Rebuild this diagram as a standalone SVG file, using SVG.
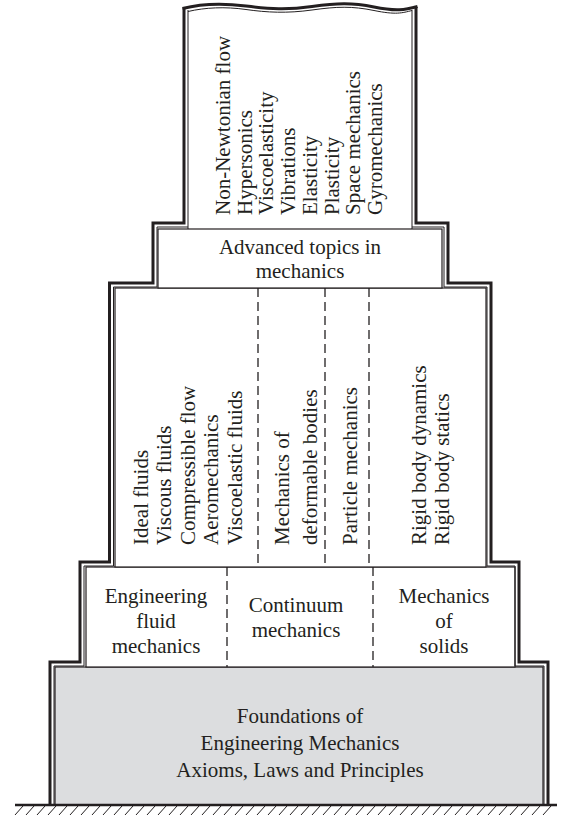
<svg xmlns="http://www.w3.org/2000/svg" width="570" height="815" viewBox="0 0 570 815">
<style>
  .t { font-family: "Liberation Serif", "Times New Roman", serif; font-size: 21px; fill: #231f20; }
  .c { text-anchor: middle; }
  .box { fill: #ffffff; stroke: #231f20; stroke-width: 1.2; }
  .thick { fill: none; stroke: #231f20; stroke-width: 3; stroke-linejoin: miter; }
  .thin { fill: none; stroke: #231f20; stroke-width: 1; }
  .dash { stroke: #231f20; stroke-width: 1.3; stroke-dasharray: 9 5; }
  .hatch { stroke: #231f20; stroke-width: 1; }
</style>
<rect x="0" y="0" width="570" height="815" fill="#ffffff"/>

<g id="foundations">
  <rect class="box" x="55" y="667" width="488" height="138" style="fill:#dcdddf"/>
  <text class="t c" x="300" y="723">Foundations of</text>
  <text class="t c" x="300" y="750">Engineering Mechanics</text>
  <text class="t c" x="300" y="777">Axioms, Laws and Principles</text>
</g>

<g id="engineering-level">
  <rect class="box" x="86" y="567" width="429" height="100"/>
  <line class="dash" x1="227" y1="567" x2="227" y2="667"/>
  <line class="dash" x1="373" y1="567" x2="373" y2="667"/>
</g>
<g id="fluid-mechanics">
  <text class="t c" x="156" y="603">Engineering</text>
  <text class="t c" x="156" y="628">fluid</text>
  <text class="t c" x="156" y="653">mechanics</text>
</g>
<g id="continuum-mechanics">
  <text class="t c" x="296" y="612">Continuum</text>
  <text class="t c" x="296" y="637">mechanics</text>
</g>
<g id="mechanics-of-solids">
  <text class="t c" x="444" y="603">Mechanics</text>
  <text class="t c" x="444" y="628">of</text>
  <text class="t c" x="444" y="653">solids</text>
</g>

<g id="middle-level">
  <rect class="box" x="115" y="288" width="371" height="279"/>
  <line class="dash" x1="258" y1="288" x2="258" y2="567"/>
  <line class="dash" x1="325" y1="288" x2="325" y2="567"/>
  <line class="dash" x1="369" y1="288" x2="369" y2="567"/>
</g>
<g id="fluids">
  <g transform="rotate(-90)">
    <text class="t" x="-545" y="147.5">Ideal fluids</text>
    <text class="t" x="-545" y="171">Viscous fluids</text>
    <text class="t" x="-545" y="194.5">Compressible flow</text>
    <text class="t" x="-545" y="218">Aeromechanics</text>
    <text class="t" x="-545" y="242">Viscoelastic fluids</text>
  </g>
</g>
<g id="deformable-bodies">
  <g transform="rotate(-90)">
    <text class="t" x="-545" y="288.5">Mechanics of</text>
    <text class="t" x="-545" y="316.5">deformable bodies</text>
  </g>
</g>
<g id="particle-mechanics">
  <g transform="rotate(-90)">
    <text class="t" x="-545" y="356.5">Particle mechanics</text>
  </g>
</g>
<g id="rigid-body">
  <g transform="rotate(-90)">
    <text class="t" x="-545" y="425.5">Rigid body dynamics</text>
    <text class="t" x="-545" y="449">Rigid body statics</text>
  </g>
</g>

<g id="advanced-topics">
  <rect class="box" x="158" y="229" width="284" height="59"/>
  <text class="t c" x="300" y="254">Advanced topics in</text>
  <text class="t c" x="300" y="278">mechanics</text>
</g>

<g id="top-topics">
  <line class="thin" x1="188" y1="10" x2="188" y2="229"/>
  <line class="thin" x1="412" y1="10" x2="412" y2="229"/>
  <g transform="rotate(-90)">
    <text class="t" x="-215" y="230">Non-Newtonian flow</text>
    <text class="t" x="-215" y="251.7">Hypersonics</text>
    <text class="t" x="-215" y="273.4">Viscoelasticity</text>
    <text class="t" x="-215" y="295.1">Vibrations</text>
    <text class="t" x="-215" y="316.8">Elasticity</text>
    <text class="t" x="-215" y="338.5">Plasticity</text>
    <text class="t" x="-215" y="360.2">Space mechanics</text>
    <text class="t" x="-215" y="381.9">Gyromechanics</text>
  </g>
</g>

<g id="outline">
  <path class="thick" d="M50,805 V662 H80 V562 H109.5 V283 H153 V223 H184 V7.5"/>
  <path class="thick" d="M416,7 V223 H448 V283 H491 V562 H519 V662 H548 V805"/>
  <path class="thin" d="M54,805 V666 H84 V566 H113.5 V287 H157 V227 H188"/>
  <path class="thin" d="M412,227 H444 V287 H487 V566 H515 V666 H544 V805"/>
  <path class="thick" d="M182.5,8.5 C200,4 222,3 246,6 S 287,10 312,6.5 S 352,2.5 374,7 S 405,10 417.5,6.5"/>
  <path class="thin" d="M188,11.5 C205,7.5 225,6.5 246,9.5 S 287,13.5 312,10 S 352,6 374,10.5 S 402,13 412,10.5"/>
</g>

<g id="ground">
  <line x1="15" y1="805" x2="557" y2="805" stroke="#231f20" stroke-width="2.6"/>
  <path class="hatch" d="M15,815 l8,-9 M26,815 l8,-9 M37,815 l8,-9 M48,815 l8,-9 M59,815 l8,-9 M70,815 l8,-9 M81,815 l8,-9 M92,815 l8,-9 M103,815 l8,-9 M114,815 l8,-9 M125,815 l8,-9 M136,815 l8,-9 M147,815 l8,-9 M158,815 l8,-9 M169,815 l8,-9 M180,815 l8,-9 M191,815 l8,-9 M202,815 l8,-9 M213,815 l8,-9 M224,815 l8,-9 M235,815 l8,-9 M246,815 l8,-9 M257,815 l8,-9 M268,815 l8,-9 M279,815 l8,-9 M290,815 l8,-9 M301,815 l8,-9 M312,815 l8,-9 M323,815 l8,-9 M334,815 l8,-9 M345,815 l8,-9 M356,815 l8,-9 M367,815 l8,-9 M378,815 l8,-9 M389,815 l8,-9 M400,815 l8,-9 M411,815 l8,-9 M422,815 l8,-9 M433,815 l8,-9 M444,815 l8,-9 M455,815 l8,-9 M466,815 l8,-9 M477,815 l8,-9 M488,815 l8,-9 M499,815 l8,-9 M510,815 l8,-9 M521,815 l8,-9 M532,815 l8,-9 M543,815 l8,-9"/>
</g>
</svg>
